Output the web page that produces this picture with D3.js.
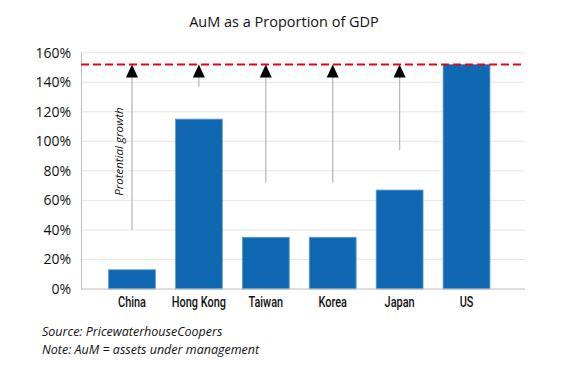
<!DOCTYPE html>
<html><head><meta charset="utf-8">
<script src="https://cdn.jsdelivr.net/npm/d3@7"></script>
<style>
body{margin:0;background:#fff;}
svg{display:block;}
</style></head>
<body><svg id="c" width="568" height="376"></svg>
<script>
const categories = ["China","Hong Kong","Taiwan","Korea","Japan","US"];
const aumPct = [13, 115, 35, 35, 67, 152];
const arrowStartPct = [40, 137, 72, 72, 94, null];
const targetPct = 152;
const yTicks = [0,20,40,60,80,100,120,140,160];
const titleText = "AuM as a Proportion of GDP";
const annotationText = "Protential growth";
const notes = ["Source: PricewaterhouseCoopers","Note: AuM = assets under management"];

(function(){
const svg = d3.select("#c");
const pLeft = 81, pRight = 525, pTop = 52.7, pBottom = 289;
const x = d3.scaleBand().domain(categories).range([98.5, 500]).paddingInner(0.3).paddingOuter(0.15);
const y = d3.scaleLinear().domain([0,160]).range([pBottom, pTop]);

svg.append("text").attr("x", 284).attr("y", 27).attr("text-anchor","middle")
  .attr("font-family","'Open Sans', sans-serif").attr("font-size",14.5).attr("fill","#111").text(titleText);

svg.append("g").selectAll("line").data(yTicks.slice(1)).join("line")
  .attr("x1", pLeft).attr("x2", pRight).attr("y1", d=>y(d)).attr("y2", d=>y(d))
  .attr("stroke","#e6e6e6").attr("stroke-width",1);

const yAxis = d3.axisLeft(y).tickValues(yTicks).tickFormat(d=>d+"%").tickSize(0).tickPadding(10);
const gy = svg.append("g").attr("transform",`translate(${pLeft},0)`).call(yAxis);
gy.select(".domain").attr("stroke","#bdbdbd");
gy.selectAll("text").attr("font-family","'Open Sans', sans-serif").attr("font-size",14).attr("fill","#111");

svg.append("g").selectAll("rect").data(categories).join("rect")
  .attr("x", d=>x(d)).attr("width", x.bandwidth())
  .attr("y", (d,i)=>y(aumPct[i])).attr("height",(d,i)=>y(0)-y(aumPct[i]))
  .attr("fill","#1068b2").attr("stroke","#5a9ad6").attr("stroke-width",0.8);

const xAxis = d3.axisBottom(x).tickSize(0).tickPadding(8);
const gx = svg.append("g").attr("transform",`translate(0,${pBottom})`).call(xAxis);
gx.select(".domain").remove();
svg.append("line").attr("x1",pLeft).attr("x2",pRight).attr("y1",pBottom).attr("y2",pBottom).attr("stroke","#bdbdbd");
gx.selectAll("text").attr("font-family","Roboto, sans-serif")
  .attr("font-size",14).attr("font-weight",500).attr("fill","#111")
  .attr("transform","scale(0.78,1)");

const ag = svg.append("g");
categories.forEach((c,i)=>{
  if (arrowStartPct[i]==null) return;
  const cx = x(c)+x.bandwidth()/2;
  ag.append("line").attr("x1",cx).attr("x2",cx).attr("y1",y(arrowStartPct[i])).attr("y2",y(targetPct)+8)
    .attr("stroke","#b5b5b5").attr("stroke-width",1.2);
  const ty = y(targetPct);
  ag.append("path").attr("d",`M${cx},${ty} L${cx-6},${ty+13} L${cx+6},${ty+13} Z`).attr("fill","#000");
});

svg.append("line").attr("x1",pLeft).attr("x2",pRight).attr("y1",y(targetPct)).attr("y2",y(targetPct))
  .attr("stroke","#e3061b").attr("stroke-width",2).attr("stroke-dasharray","8,4");

const ax = x("China")+x.bandwidth()/2 - 9;
svg.append("text").attr("transform",`translate(${ax},${y(93)}) rotate(-90)`).attr("text-anchor","middle")
  .attr("font-family","'Open Sans', sans-serif").attr("font-style","italic").attr("font-size",11.5)
  .attr("fill","#111").text(annotationText);

svg.append("g").selectAll("text").data(notes).join("text")
  .attr("x",42).attr("y",(d,i)=>336+i*17.5)
  .attr("font-family","'Open Sans', sans-serif").attr("font-style","italic").attr("font-size",12.5)
  .attr("fill","#111").text(d=>d);
})();
</script></body></html>
